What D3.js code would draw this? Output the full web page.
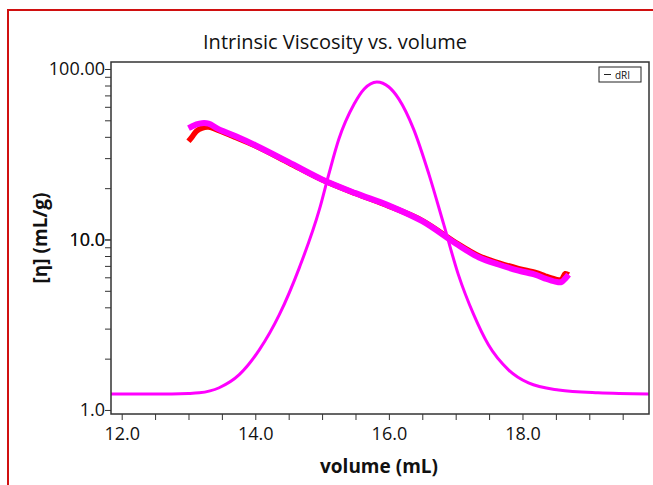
<!DOCTYPE html>
<html>
<head>
<meta charset="utf-8">
<script src="https://cdn.jsdelivr.net/npm/d3@7"></script>
<style>
  body { margin: 0; background: #fff; }
  svg text { font-family: "Open Sans", "Noto Sans", sans-serif; fill: #111; }
</style>
</head>
<body>
<div id="chart"></div>
<script>
// dRI trace (volume in mL, detector signal plotted on the same log axis)
var driVolume = [11.84, 12.5, 13.0, 13.16, 13.46, 13.76, 14.06, 14.36, 14.66, 14.96, 15.1, 15.25, 15.48, 15.63, 15.82, 16.0, 16.15, 16.37, 16.6, 16.82, 17.04, 17.27, 17.49, 17.79, 18.09, 18.54, 19.13, 19.89];
var driValue  = [1.24, 1.24, 1.25, 1.26, 1.35, 1.61, 2.25, 3.62, 6.84, 15.0, 24.1, 38.7, 62.3, 76.3, 83.9, 78.4, 66.6, 44.4, 24.1, 12.3, 6.22, 3.62, 2.41, 1.72, 1.44, 1.31, 1.26, 1.24];

// intrinsic viscosity, two overlaid runs (red underneath, magenta on top)
var ivVolume   = [13.0, 13.05, 13.12, 13.2, 13.3, 13.45, 13.7, 14.0, 14.5, 15.0, 15.5, 16.0, 16.5, 17.0, 17.35, 17.64, 17.94, 18.2, 18.34, 18.49, 18.58, 18.64, 18.69];
var ivRed      = [37.7, 39.8, 43.2, 45.0, 45.6, 43.6, 39.8, 35.4, 28.2, 22.4, 18.6, 15.7, 12.9, 9.6, 8.0, 7.3, 6.75, 6.4, 6.1, 5.85, 5.8, 6.3, 6.2];
var ivMagenta  = [45.0, 46.0, 47.3, 48.1, 47.8, 44.4, 40.4, 35.7, 28.4, 22.5, 18.7, 15.8, 12.8, 9.47, 7.84, 7.13, 6.57, 6.2, 5.9, 5.66, 5.62, 5.9, 6.22];

var xTicks = [12, 14, 16, 18];
var xMinorTicks = [12, 12.5, 13, 13.5, 14, 14.5, 15, 15.5, 16, 16.5, 17, 17.5, 18, 18.5, 19, 19.5];
var yTickLabels = {1: "1.0", 10: "10.0", 100: "100.00"};

var width = 653, height = 485;
var plotLeft = 111, plotTop = 62, plotW = 538, plotH = 352;

var svg = d3.select("#chart").append("svg")
  .attr("width", width)
  .attr("height", height);

// outer red frame (runs off the right and bottom edges)
svg.append("rect")
  .attr("x", 8).attr("y", 10)
  .attr("width", 660).attr("height", 490)
  .attr("fill", "none")
  .attr("stroke", "#d01010")
  .attr("stroke-width", 2);

var x = d3.scaleLinear().domain([11.84, 19.894]).range([plotLeft, plotLeft + plotW]);
var y = d3.scaleLog().domain([0.947, 109.9]).range([plotTop + plotH, plotTop]);

svg.append("text")
  .attr("x", 335).attr("y", 49)
  .attr("text-anchor", "middle")
  .style("font-size", "20px")
  .text("Intrinsic Viscosity vs. volume");

// y axis
var yMinor = [];
[1, 10].forEach(function(d) {
  for (var k = 1; k <= 10; k++) yMinor.push(d * k);
});
var yAxis = d3.axisLeft(y).tickValues(yMinor).tickSize(6)
  .tickFormat(function(d) { return yTickLabels[d] || ""; });
var yG = svg.append("g").attr("transform", "translate(" + plotLeft + ",0)").call(yAxis);
yG.select(".domain").remove();
yG.selectAll("line").attr("stroke", "#333");
yG.selectAll("text").style("font-size", "18px").attr("x", -6);

// x axis
var xAxis = d3.axisBottom(x).tickValues(xMinorTicks).tickSize(6)
  .tickFormat(function(d) { return xTicks.indexOf(d) >= 0 ? d.toFixed(1) : ""; });
var xG = svg.append("g").attr("transform", "translate(0," + (plotTop + plotH) + ")").call(xAxis);
xG.select(".domain").remove();
xG.selectAll("line").attr("stroke", "#333");
xG.selectAll("text").style("font-size", "18px").attr("y", 13);

svg.append("text")
  .attr("x", 379).attr("y", 473)
  .attr("text-anchor", "middle")
  .style("font-size", "19px").style("font-weight", "bold")
  .text("volume (mL)");

svg.append("text")
  .attr("transform", "translate(47," + 238 + ") rotate(-90)")
  .attr("text-anchor", "middle")
  .style("font-size", "19px").style("font-weight", "bold")
  .text("[η] (mL/g)");

// clip region
svg.append("clipPath").attr("id", "plotClip")
  .append("rect").attr("x", plotLeft).attr("y", plotTop).attr("width", plotW).attr("height", plotH);

var plot = svg.append("g").attr("clip-path", "url(#plotClip)");

var line = d3.line()
  .x(function(d) { return x(d[0]); })
  .y(function(d) { return y(d[1]); })
  .curve(d3.curveMonotoneX);

plot.append("path")
  .datum(d3.zip(ivVolume, ivRed))
  .attr("d", line.curve(d3.curveCatmullRom))
  .attr("fill", "none").attr("stroke", "#ff0000").attr("stroke-width", 5.5);

plot.append("path")
  .datum(d3.zip(ivVolume, ivMagenta))
  .attr("d", line.curve(d3.curveCatmullRom))
  .attr("fill", "none").attr("stroke", "#ff00ff").attr("stroke-width", 6);

plot.append("path")
  .datum(d3.zip(driVolume, driValue))
  .attr("d", line.curve(d3.curveMonotoneX))
  .attr("fill", "none").attr("stroke", "#ff00ff").attr("stroke-width", 3);

// plot frame
svg.append("rect")
  .attr("x", plotLeft).attr("y", plotTop)
  .attr("width", plotW).attr("height", plotH)
  .attr("fill", "none").attr("stroke", "#333").attr("stroke-width", 1.5);

// legend
var lg = svg.append("g").attr("transform", "translate(599,67)");
lg.append("rect").attr("width", 42).attr("height", 15)
  .attr("fill", "#fff").attr("stroke", "#222").attr("stroke-width", 1);
lg.append("line").attr("x1", 5).attr("x2", 12).attr("y1", 7.5).attr("y2", 7.5)
  .attr("stroke", "#222").attr("stroke-width", 1);
lg.append("text").attr("x", 16).attr("y", 11.5)
  .style("font-size", "10px").text("dRI");
</script>
</body>
</html>
